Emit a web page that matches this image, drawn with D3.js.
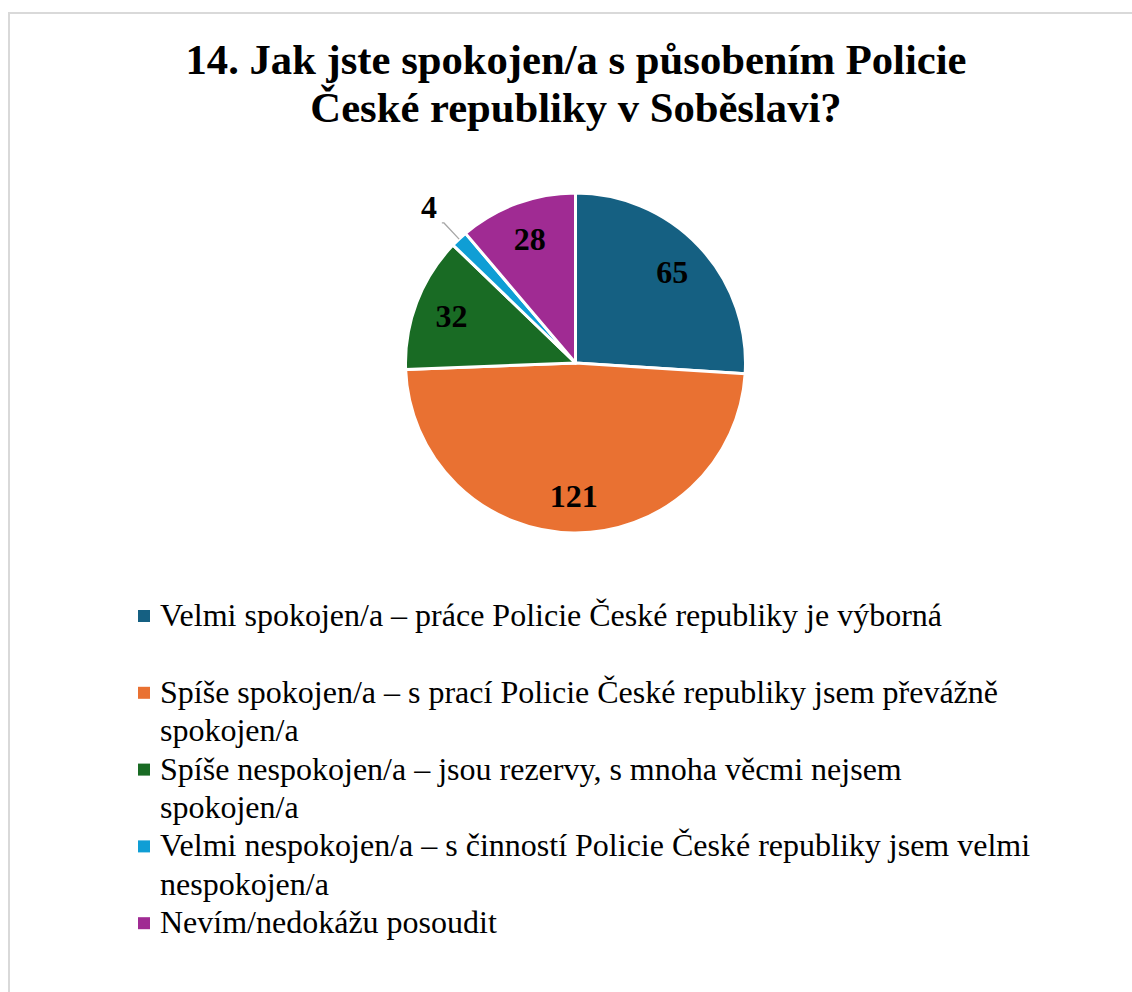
<!DOCTYPE html>
<html>
<head>
<meta charset="utf-8">
<script src="https://cdn.jsdelivr.net/npm/d3@7"></script>
<style>
  html, body { margin: 0; padding: 0; background: #fff; }
  svg { display: block; }
</style>
</head>
<body>
<svg id="chart" width="1132" height="992"></svg>
<script>
const titleLines = ["14. Jak jste spokojen/a s působením Policie", "České republiky v Soběslavi?"];
const categories = [
  "Velmi spokojen/a – práce Policie České republiky je výborná",
  "Spíše spokojen/a – s prací Policie České republiky jsem převážně spokojen/a",
  "Spíše nespokojen/a – jsou rezervy, s mnoha věcmi nejsem spokojen/a",
  "Velmi nespokojen/a – s činností Policie České republiky jsem velmi nespokojen/a",
  "Nevím/nedokážu posoudit"
];
const legendLines = [
  ["Velmi spokojen/a – práce Policie České republiky je výborná", ""],
  ["Spíše spokojen/a – s prací Policie České republiky jsem převážně", "spokojen/a"],
  ["Spíše nespokojen/a – jsou rezervy, s mnoha věcmi nejsem", "spokojen/a"],
  ["Velmi nespokojen/a – s činností Policie České republiky jsem velmi", "nespokojen/a"],
  ["Nevím/nedokážu posoudit"]
];
const values = [65, 121, 32, 4, 28];
const colors = ["#156082", "#E97132", "#196B24", "#0F9ED5", "#A02B93"];

const svg = d3.select("#chart");
const W = 1132, H = 992;
svg.append("rect").attr("width", W).attr("height", H).attr("fill", "#fff");
svg.append("rect").attr("x", 9).attr("y", 13).attr("width", 1140).attr("height", 1000)
  .attr("fill", "none").attr("stroke", "#d9d9d9").attr("stroke-width", 2);

const serif = "Liberation Serif";

// Title
svg.append("g").selectAll("text").data(titleLines).join("text")
  .attr("x", 576).attr("y", (d, i) => 74 + i * 48)
  .attr("text-anchor", "middle")
  .style("font-family", serif).attr("font-weight", "bold").attr("font-size", 42.67)
  .attr("fill", "#000").text(d => d);

// Pie
const cx = 575.5, cy = 363, r = 170;
const data = categories.map((c, i) => ({ cat: c, value: values[i], color: colors[i] }));
const pie = d3.pie().value(d => d.value).sort(null);
const arcs = pie(data);
const arc = d3.arc().innerRadius(0).outerRadius(r);
const g = svg.append("g").attr("transform", `translate(${cx},${cy})`);
g.selectAll("path").data(arcs).join("path")
  .attr("d", arc).attr("fill", d => d.data.color)
  .attr("stroke", "#fff").attr("stroke-width", 3).attr("stroke-linejoin", "round");

const labelArc = d3.arc().innerRadius(r * 0.78).outerRadius(r * 0.78);
const inside = arcs.filter(d => d.value >= 10);
const outside = arcs.filter(d => d.value < 10);
g.selectAll("text.in").data(inside).join("text").attr("class", "in")
  .attr("x", d => labelArc.centroid(d)[0])
  .attr("y", d => labelArc.centroid(d)[1] + 11)
  .attr("text-anchor", "middle")
  .style("font-family", serif).attr("font-weight", "bold").attr("font-size", 32)
  .attr("fill", "#000").text(d => d.value);

outside.forEach(d => {
  const a = (d.startAngle + d.endAngle) / 2;
  const p0 = [Math.sin(a) * r, -Math.cos(a) * r];
  const pe = [Math.sin(a) * r * 1.13, -Math.cos(a) * r * 1.13];
  const pl = [Math.sin(a) * r * 1.26, -Math.cos(a) * r * 1.26];
  const lineEnd = [pl[0] + 13, pe[1]];
  g.append("path")
    .attr("d", d3.line()([p0, pe, lineEnd]))
    .attr("fill", "none").attr("stroke", "#a6a6a6").attr("stroke-width", 1.3);
  g.append("text")
    .attr("x", pl[0]).attr("y", pl[1] + 11)
    .attr("text-anchor", "middle")
    .style("font-family", serif).attr("font-weight", "bold").attr("font-size", 32)
    .attr("fill", "#000").text(d.value);
});

// Legend
const lg = svg.append("g");
const lineH = 38.4;
let slot = 0;
legendLines.forEach((lines, i) => {
  const y0 = 626 + slot * lineH;
  lg.append("rect").attr("x", 138).attr("y", y0 - 16).attr("width", 12).attr("height", 12)
    .attr("fill", colors[i]);
  lines.forEach((t, j) => {
    if (!t) return;
    lg.append("text").attr("x", 160).attr("y", y0 + j * lineH)
      .style("font-family", serif).attr("font-size", 32).attr("fill", "#000").text(t);
  });
  slot += lines.length;
});
</script>
</body>
</html>
